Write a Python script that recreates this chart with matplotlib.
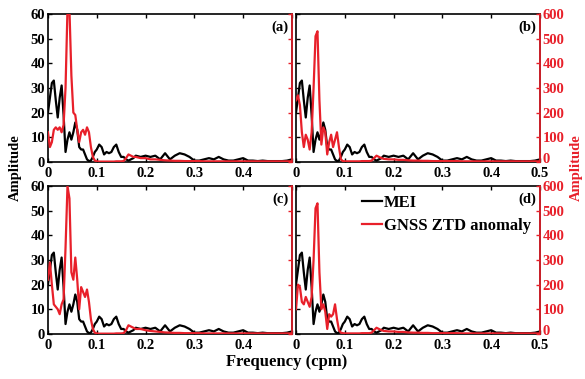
import matplotlib
matplotlib.use('Agg')
import matplotlib.pyplot as plt
import matplotlib.transforms as mtransforms

plt.rcParams['font.family'] = 'Liberation Serif'
plt.rcParams['font.weight'] = 'bold'
plt.rcParams['font.size'] = 10.5

RED = '#e8202a'

# frequency grid (cpm)
freq = [0, 0.004, 0.008, 0.012, 0.016, 0.020, 0.024, 0.028, 0.032, 0.036, 0.040,
        0.044, 0.048, 0.052, 0.056, 0.060, 0.064, 0.068, 0.072, 0.076, 0.080,
        0.084, 0.088, 0.092, 0.096, 0.100,
        0.105, 0.110, 0.115, 0.120, 0.125, 0.130, 0.135, 0.140, 0.145, 0.150,
        0.155, 0.160, 0.165, 0.170, 0.175,
        0.18, 0.19, 0.20, 0.21, 0.22, 0.23, 0.24, 0.25, 0.26, 0.27, 0.28, 0.29,
        0.30, 0.31, 0.32, 0.33, 0.34, 0.35, 0.36, 0.37, 0.38, 0.39, 0.40, 0.41,
        0.42, 0.43, 0.44, 0.45, 0.46, 0.47, 0.48, 0.49, 0.50]

# MEI amplitude (same in every panel)
mei = [20, 26, 32, 33, 25, 18, 26, 31, 19, 4, 9,
       12, 9, 12, 16, 13, 6, 5, 5, 3, 1,
       0.3, 0.5, 2, 4, 5,
       7, 6, 3, 4, 3.5, 4, 6, 7, 4, 2,
       2, 1, 0.5, 1, 1.5,
       2.5, 2, 2.5, 2, 2.5, 1, 3.5, 1, 2.5, 3.5, 3, 2,
       0.5, 0.5, 1, 1.5, 1, 2, 1, 0.5, 0.5, 1, 1.5, 0.5,
       0.5, 0.3, 0.5, 0.3, 0.3, 0.3, 0.3, 0.5, 1]

# GNSS ZTD anomaly amplitude, one per panel
ztd_a = [12, 6, 8, 13, 14, 13, 14, 12, 15, 30, 62,
         62, 35, 20, 19, 13, 8, 12, 13, 11, 14,
         12, 6, 2, 0.5, 0.2,
         0.1, 0.1, 0.1, 0.1, 0.1, 0.1, 0.1, 0.2, 0.2, 0.2,
         0.3, 1.5, 3, 2.5, 2,
         2, 1.5, 1.5, 1, 1, 0.8, 0.6, 0.5, 0.4, 0.4, 0.3, 0.3,
         0.3, 0.3, 0.2, 0.2, 0.2, 0.2, 0.2, 0.2, 0.2, 0.2, 0.2, 0.2,
         0.2, 0.2, 0.2, 0.2, 0.2, 0.2, 0.2, 0.2, 0.2]

ztd_b = [250, 270, 230, 120, 60, 110, 90, 50, 120, 300, 510,
         530, 250, 70, 140, 120, 30, 80, 110, 60, 90,
         120, 60, 10, 3, 2,
         2, 2, 2, 2, 2, 2, 3, 3, 3, 3,
         5, 15, 25, 20, 15,
         12, 10, 10, 8, 8, 6, 5, 5, 4, 4, 3, 3,
         3, 3, 3, 3, 2, 2, 2, 2, 2, 2, 2, 2,
         2, 2, 2, 2, 2, 2, 2, 2, 2]

ztd_c = [22, 29, 20, 12, 11, 10, 8, 12, 14, 35, 60,
         55, 25, 22, 31, 22, 10, 19, 17, 15, 18,
         13, 6, 2, 0.5, 0.2,
         0.1, 0.1, 0.1, 0.1, 0.1, 0.1, 0.1, 0.2, 0.2, 0.2,
         0.3, 1.5, 3.5, 3, 2.5,
         2, 2, 1.5, 1.2, 1, 0.8, 0.6, 0.5, 0.4, 0.4, 0.3, 0.3,
         0.3, 0.3, 0.2, 0.2, 0.2, 0.2, 0.2, 0.2, 0.2, 0.2, 0.2, 0.2,
         0.2, 0.2, 0.2, 0.2, 0.2, 0.2, 0.2, 0.2, 0.2]

ztd_d = [100, 200, 190, 130, 120, 150, 130, 110, 150, 300, 510,
         530, 250, 100, 120, 90, 20, 80, 70, 80, 120,
         60, 15, 5, 3, 2,
         2, 2, 2, 2, 2, 2, 3, 3, 3, 3,
         5, 15, 25, 20, 15,
         12, 10, 10, 8, 8, 6, 5, 5, 4, 4, 3, 3,
         3, 3, 3, 3, 2, 2, 2, 2, 2, 2, 2, 2,
         2, 2, 2, 2, 2, 2, 2, 2, 2]

panel_labels = ['(a)', '(b)', '(c)', '(d)']
ztd_series = [ztd_a, ztd_b, ztd_c, ztd_d]
xticks = [0, 0.1, 0.2, 0.3, 0.4, 0.5]
xtick_labels = ['0', '0.1', '0.2', '0.3', '0.4', '0.5']

fig = plt.figure(figsize=(5.85, 3.79), dpi=100)

# axes boxes in figure fractions
lefts = [0.082, 0.506]
width = 0.417
bottoms = [0.573, 0.119]
height = 0.390

for i in range(4):
    row, col = divmod(i, 2)
    ax = fig.add_axes([lefts[col], bottoms[row], width, height])
    ax2 = ax.twinx()

    line_m, = ax.plot(freq, mei, color='black', lw=1.6, label='MEI')
    line_z, = ax2.plot(freq, ztd_series[i], color=RED, lw=1.6, label='GNSS ZTD anomaly')

    ax.set_xlim(0, 0.5)
    ax.set_ylim(0, 60)
    ax.set_xticks(xticks)
    if col == 0:
        ax.set_xticklabels(xtick_labels[:-1] + [''])
    else:
        ax.set_xticklabels(xtick_labels)
    ax.set_yticks([0, 10, 20, 30, 40, 50, 60])
    if col == 1:
        ax.set_yticklabels([])
    ax.tick_params(direction='in', length=3, width=1, top=True, pad=2)
    ax.tick_params(axis='x', pad=4)
    for s in ax.spines.values():
        s.set_linewidth(1.2)

    if col == 1:
        ax2.set_ylim(0, 600)
        ax2.set_yticks([0, 100, 200, 300, 400, 500, 600])
    else:
        ax2.set_ylim(0, 60)
        ax2.set_yticks([0, 10, 20, 30, 40, 50, 60])
        ax2.set_yticklabels([])
    ax2.tick_params(axis='y', direction='in', length=3, width=1, colors=RED, pad=2)
    if col == 1:
        # lift the red "0" a little so it clears the x tick label "0.5"
        lbl = ax2.get_yticklabels()[0]
        lbl.set_transform(lbl.get_transform() +
                          mtransforms.ScaledTranslation(0, 3 / 72, fig.dpi_scale_trans))
    for name in ['top', 'bottom', 'left']:
        ax2.spines[name].set_visible(False)
    ax2.spines['right'].set_color(RED)
    ax2.spines['right'].set_linewidth(1.2)

    ax.text(0.985, 0.955, panel_labels[i], transform=ax.transAxes,
            ha='right', va='top', fontweight='bold')

    if i == 3:
        ax2.legend([line_m, line_z], ['MEI', 'GNSS ZTD anomaly'], loc='upper left',
                   bbox_to_anchor=(0.23, 1.01), frameon=False, handlelength=1.2,
                   handletextpad=0.1, labelspacing=0.45, borderaxespad=0.2,
                   prop={'weight': 'bold', 'size': 12})

fig.text(0.026, 0.557, 'Amplitude', rotation=90, ha='center', va='center', fontweight='bold')
fig.text(0.986, 0.557, 'Amplitude', rotation=90, ha='center', va='center',
         fontweight='bold', color=RED)
fig.text(0.49, 0.045, 'Frequency (cpm)', ha='center', va='center', fontweight='bold',
         fontsize=12)

fig.savefig('out.png', dpi=100)
